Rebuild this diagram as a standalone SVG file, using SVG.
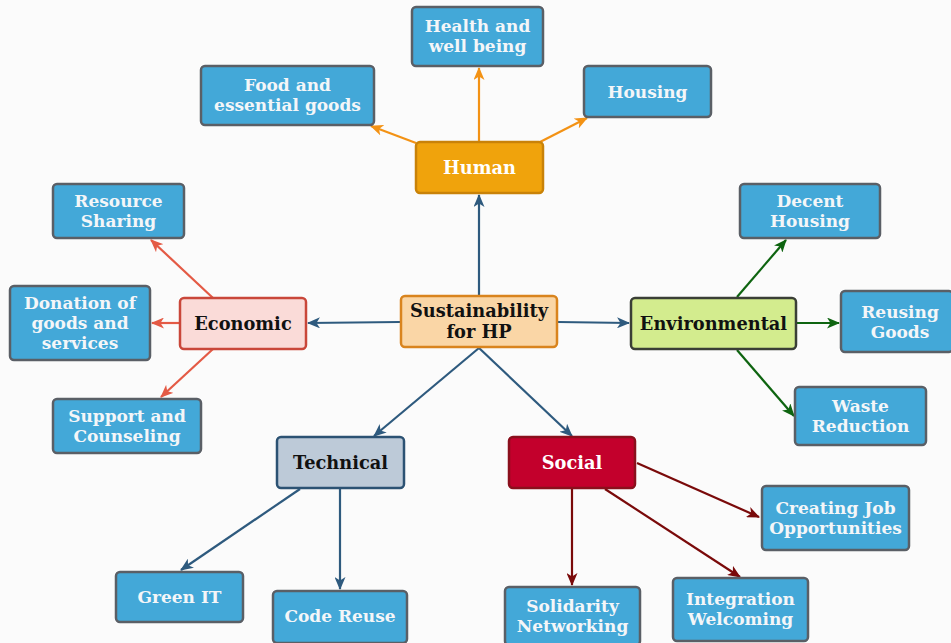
<svg xmlns="http://www.w3.org/2000/svg" width="951" height="643" viewBox="0 0 951 643">
  <style>
    text { font-family: "DejaVu Serif", "Liberation Serif", serif; font-weight: bold; text-anchor: middle; }
    .leaf rect { fill: #43A8D8; stroke: #5A5F66; stroke-width: 2.5; }
    .leaf text { fill: #F4F6F8; font-size: 17px; }
    .cat text { font-size: 17.8px; }
    .conn line { stroke-width: 2.2; fill: none; }
    .blue { stroke: #2E5A7E; }
    .orange { stroke: #F39214; }
    .red { stroke: #E45A45; }
    .green { stroke: #0E6410; }
    .dred { stroke: #7A0A0A; }
  </style>
  <defs>
    <marker id="mBlue" viewBox="0 0 13 11" refX="12" refY="5.5" markerWidth="13" markerHeight="11" markerUnits="userSpaceOnUse" orient="auto"><path d="M0,0 L13,5.5 L0,11 L3.5,5.5 z" fill="#2E5A7E"/></marker>
    <marker id="mOrange" viewBox="0 0 13 11" refX="12" refY="5.5" markerWidth="13" markerHeight="11" markerUnits="userSpaceOnUse" orient="auto"><path d="M0,0 L13,5.5 L0,11 L3.5,5.5 z" fill="#F39214"/></marker>
    <marker id="mRed" viewBox="0 0 13 11" refX="12" refY="5.5" markerWidth="13" markerHeight="11" markerUnits="userSpaceOnUse" orient="auto"><path d="M0,0 L13,5.5 L0,11 L3.5,5.5 z" fill="#E45A45"/></marker>
    <marker id="mGreen" viewBox="0 0 13 11" refX="12" refY="5.5" markerWidth="13" markerHeight="11" markerUnits="userSpaceOnUse" orient="auto"><path d="M0,0 L13,5.5 L0,11 L3.5,5.5 z" fill="#0E6410"/></marker>
    <marker id="mDred" viewBox="0 0 13 11" refX="12" refY="5.5" markerWidth="13" markerHeight="11" markerUnits="userSpaceOnUse" orient="auto"><path d="M0,0 L13,5.5 L0,11 L3.5,5.5 z" fill="#7A0A0A"/></marker>
  </defs>
  <rect x="0" y="0" width="951" height="643" fill="#FBFBFB"/>

  <!-- connectors -->
  <g id="connectors" class="conn">
    <line class="blue" x1="479" y1="296" x2="479" y2="195" marker-end="url(#mBlue)"/>
    <line class="blue" x1="400" y1="322" x2="308" y2="323" marker-end="url(#mBlue)"/>
    <line class="blue" x1="558" y1="322" x2="629" y2="323" marker-end="url(#mBlue)"/>
    <line class="blue" x1="479" y1="348" x2="374" y2="436" marker-end="url(#mBlue)"/>
    <line class="blue" x1="479" y1="348" x2="572" y2="436" marker-end="url(#mBlue)"/>

    <line class="orange" x1="416" y1="143" x2="371" y2="126" marker-end="url(#mOrange)"/>
    <line class="orange" x1="479" y1="142" x2="479" y2="68" marker-end="url(#mOrange)"/>
    <line class="orange" x1="540" y1="142" x2="587" y2="118" marker-end="url(#mOrange)"/>

    <line class="red" x1="213" y1="298" x2="151" y2="240" marker-end="url(#mRed)"/>
    <line class="red" x1="180" y1="323" x2="152" y2="323" marker-end="url(#mRed)"/>
    <line class="red" x1="213" y1="349" x2="161" y2="397" marker-end="url(#mRed)"/>

    <line class="green" x1="737" y1="297" x2="786" y2="240" marker-end="url(#mGreen)"/>
    <line class="green" x1="797" y1="323" x2="839" y2="323" marker-end="url(#mGreen)"/>
    <line class="green" x1="737" y1="350" x2="794" y2="416" marker-end="url(#mGreen)"/>

    <line class="blue" x1="300" y1="489" x2="181" y2="570" marker-end="url(#mBlue)"/>
    <line class="blue" x1="340" y1="489" x2="340" y2="589" marker-end="url(#mBlue)"/>

    <line class="dred" x1="572" y1="489" x2="572" y2="585" marker-end="url(#mDred)"/>
    <line class="dred" x1="605" y1="489" x2="740" y2="577" marker-end="url(#mDred)"/>
    <line class="dred" x1="637" y1="463" x2="759" y2="517" marker-end="url(#mDred)"/>
  </g>

  <!-- central node -->
  <g id="center" class="cat">
    <rect x="401" y="296" width="156" height="51" rx="4" fill="#FAD6A6" stroke="#D9841E" stroke-width="2.5"/>
    <text x="479" y="317" fill="#111">Sustainability</text>
    <text x="479" y="338" fill="#111">for HP</text>
  </g>

  <!-- category nodes -->
  <g id="human" class="cat">
    <rect x="416" y="142" width="127" height="51" rx="4" fill="#F0A30C" stroke="#C98208" stroke-width="2.5"/>
    <text x="479.5" y="173.5" fill="#FFFFFF">Human</text>
  </g>
  <g id="economic" class="cat">
    <rect x="180" y="298" width="126" height="51" rx="4" fill="#FADBD8" stroke="#C9473A" stroke-width="2.5"/>
    <text x="243" y="329.5" fill="#111">Economic</text>
  </g>
  <g id="environmental" class="cat">
    <rect x="631" y="298" width="165" height="51" rx="4" fill="#D3EC8E" stroke="#3A3F36" stroke-width="2.5"/>
    <text x="713.5" y="329.5" fill="#111">Environmental</text>
  </g>
  <g id="technical" class="cat">
    <rect x="277" y="437" width="127" height="51" rx="4" fill="#BDCAD8" stroke="#2C5273" stroke-width="2.5"/>
    <text x="340.5" y="468.5" fill="#111">Technical</text>
  </g>
  <g id="social" class="cat">
    <rect x="509" y="437" width="126" height="51" rx="4" fill="#C3002C" stroke="#8A0F1C" stroke-width="2.5"/>
    <text x="572" y="468.5" fill="#FFFFFF">Social</text>
  </g>

  <!-- human leaves -->
  <g id="health" class="leaf">
    <rect x="412" y="7" width="131" height="59" rx="4"/>
    <text x="477.5" y="32">Health and</text>
    <text x="477.5" y="52">well being</text>
  </g>
  <g id="food" class="leaf">
    <rect x="201" y="66" width="173" height="59" rx="4"/>
    <text x="287.5" y="91">Food and</text>
    <text x="287.5" y="111">essential goods</text>
  </g>
  <g id="housing" class="leaf">
    <rect x="584" y="66" width="127" height="51" rx="4"/>
    <text x="647.5" y="98">Housing</text>
  </g>

  <!-- economic leaves -->
  <g id="resource-sharing" class="leaf">
    <rect x="53" y="184" width="131" height="54" rx="4"/>
    <text x="118.5" y="207">Resource</text>
    <text x="118.5" y="227">Sharing</text>
  </g>
  <g id="donation" class="leaf">
    <rect x="10" y="286" width="140" height="74" rx="4"/>
    <text x="80" y="309">Donation of</text>
    <text x="80" y="329">goods and</text>
    <text x="80" y="349">services</text>
  </g>
  <g id="support" class="leaf">
    <rect x="53" y="399" width="148" height="54" rx="4"/>
    <text x="127" y="422">Support and</text>
    <text x="127" y="442">Counseling</text>
  </g>

  <!-- environmental leaves -->
  <g id="decent-housing" class="leaf">
    <rect x="740" y="184" width="140" height="54" rx="4"/>
    <text x="810" y="207">Decent</text>
    <text x="810" y="227">Housing</text>
  </g>
  <g id="reusing-goods" class="leaf">
    <rect x="841" y="291" width="112" height="61" rx="4"/>
    <text x="900" y="318">Reusing</text>
    <text x="900" y="338">Goods</text>
  </g>
  <g id="waste-reduction" class="leaf">
    <rect x="795" y="387" width="131" height="58" rx="4"/>
    <text x="860.5" y="412">Waste</text>
    <text x="860.5" y="432">Reduction</text>
  </g>

  <!-- technical leaves -->
  <g id="green-it" class="leaf">
    <rect x="116" y="572" width="127" height="50" rx="4"/>
    <text x="179.5" y="603">Green IT</text>
  </g>
  <g id="code-reuse" class="leaf">
    <rect x="273" y="591" width="134" height="52" rx="4"/>
    <text x="340" y="622">Code Reuse</text>
  </g>

  <!-- social leaves -->
  <g id="solidarity" class="leaf">
    <rect x="505" y="587" width="135" height="58" rx="4"/>
    <text x="572.5" y="612">Solidarity</text>
    <text x="572.5" y="632">Networking</text>
  </g>
  <g id="integration" class="leaf">
    <rect x="673" y="578" width="135" height="63" rx="4"/>
    <text x="740.5" y="605">Integration</text>
    <text x="740.5" y="625">Welcoming</text>
  </g>
  <g id="creating-jobs" class="leaf">
    <rect x="762" y="486" width="147" height="64" rx="4"/>
    <text x="835.5" y="514">Creating Job</text>
    <text x="835.5" y="534">Opportunities</text>
  </g>
</svg>
